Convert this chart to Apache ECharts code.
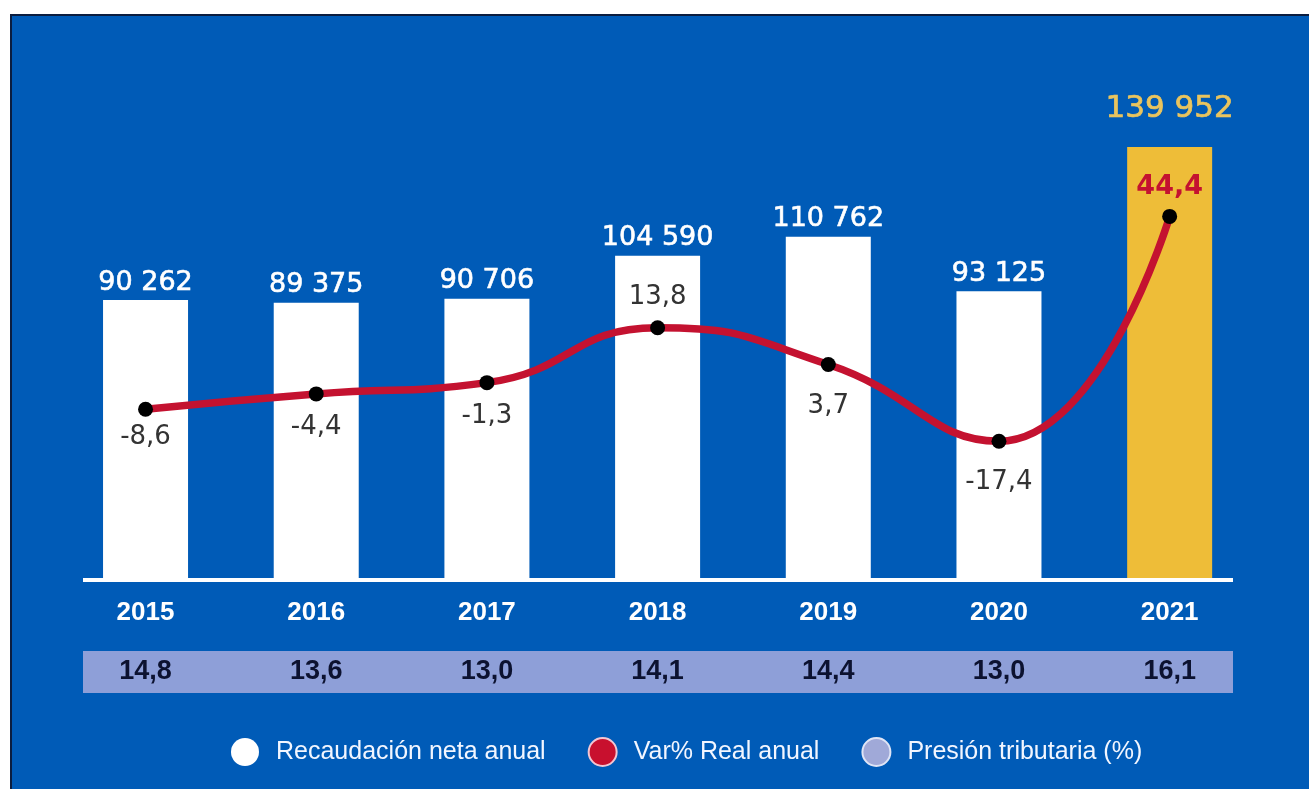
<!DOCTYPE html>
<html><head><meta charset="utf-8">
<script src="https://cdn.jsdelivr.net/npm/echarts/dist/echarts.min.js"></script>
<style>html,body{margin:0;padding:0;background:#fff;}#c{width:1309px;height:789px;}</style>
</head><body><div id="c"></div>
<script>
const years = ['2015', '2016', '2017', '2018', '2019', '2020', '2021'];
const recaudacion = [90262, 89375, 90706, 104590, 110762, 93125, 139952];
const varReal = [-8.6, -4.4, -1.3, 13.8, 3.7, -17.4, 44.4];
const presion = [14.8, 13.6, 13.0, 14.1, 14.4, 13.0, 16.1];
const seriesNames = ['Recaudación neta anual', 'Var% Real anual', 'Presión tributaria (%)'];

const fmtThousands = v => String(v).replace(/\B(?=(\d{3})+(?!\d))/g, ' ');
const fmtDec = v => v.toFixed(1).replace('.', ',');

const BLUE = '#005bb7', GOLD = '#eebd38', RED = '#c41230', BAND = '#8e9fd8';
const highlightIdx = years.length - 1;

// label placement for the line labels (style, not data)
const lineLabelCfg = varReal.map((v, i) => {
  const up = (i === 3 || i === highlightIdx);
  let dist = 10;
  if (i === 0) dist = 8;
  else if (i === 1 || i === 2) dist = 13;
  else if (i === 4 || i === 5) dist = 21;
  else if (i === highlightIdx) dist = 8;
  return { position: up ? 'top' : 'bottom', distance: dist };
});

const chart = echarts.init(document.getElementById('c'), null, { renderer: 'canvas' });
chart.setOption({
  animation: false,
  backgroundColor: '#ffffff',
  graphic: [
    { type: 'rect', z: -100, shape: { x: 11, y: 15, width: 1310, height: 790 },
      style: { fill: BLUE, stroke: '#0b1d3f', lineWidth: 2 } },
    { type: 'rect', z: -50, shape: { x: 83, y: 651, width: 1150, height: 42 },
      style: { fill: BAND } },
    { type: 'line', z: 100, shape: { x1: 83, y1: 580, x2: 1233, y2: 580 },
      style: { stroke: '#ffffff', lineWidth: 4 } }
  ],
  grid: [
    { left: 60.2, right: 54, top: 116, bottom: 211, containLabel: false },
    { left: 60.2, right: 54, top: 651, height: 42, containLabel: false }
  ],
  legend: {
    left: 226, top: 732,
    itemWidth: 28, itemHeight: 28, itemGap: 42,
    icon: 'circle',
    textStyle: { color: '#f2f6ff', fontFamily: 'Liberation Sans', fontSize: 25, padding: [0, 0, 0, 12] },
    data: [
      { name: seriesNames[0], icon: 'circle', itemStyle: { color: '#ffffff', borderWidth: 0 } },
      { name: seriesNames[1], icon: 'circle', itemStyle: { color: '#c8102e', borderColor: '#f3c6d2', borderWidth: 2 } },
      { name: seriesNames[2], icon: 'circle', itemStyle: { color: '#a0a9d8', borderColor: '#dfe5f6', borderWidth: 2, opacity: 1 } }
    ]
  },
  xAxis: [
    { type: 'category', gridIndex: 0, data: years,
      axisLine: { show: false }, axisTick: { show: false }, splitLine: { show: false },
      axisLabel: { color: '#ffffff', fontFamily: 'Liberation Sans', fontWeight: 'bold', fontSize: 26, margin: 22 } },
    { type: 'category', gridIndex: 1, data: years, show: false }
  ],
  yAxis: [
    { type: 'value', gridIndex: 0, min: 0, max: 150000, show: false, splitLine: { show: false } },
    { type: 'value', gridIndex: 0, min: -55, max: 72, show: false, splitLine: { show: false } },
    { type: 'value', gridIndex: 1, min: 0, max: 1, show: false, splitLine: { show: false } }
  ],
  series: [
    {
      name: seriesNames[0], type: 'bar', xAxisIndex: 0, yAxisIndex: 0,
      barWidth: 85, z: 2,
      itemStyle: { color: '#ffffff' },
      label: { show: true, position: 'top', distance: 4, color: '#ffffff',
        fontFamily: 'DejaVu Sans', fontSize: 27, textBorderColor: '#ffffff', textBorderWidth: 0.6,
        formatter: p => fmtThousands(p.value) },
      data: recaudacion.map((v, i) => i === highlightIdx ? {
        value: v, itemStyle: { color: GOLD },
        label: { color: '#e9c45e', fontSize: 31, distance: 22, textBorderColor: '#e9c45e', textBorderWidth: 0.7 }
      } : v)
    },
    {
      name: seriesNames[1], type: 'line', xAxisIndex: 0, yAxisIndex: 1,
      smooth: 0.5, z: 5,
      symbol: 'circle', symbolSize: 15,
      lineStyle: { color: RED, width: 7.5 },
      itemStyle: { color: '#000000' },
      label: { show: true, color: '#333333', fontFamily: 'DejaVu Sans', fontSize: 26,
        formatter: p => fmtDec(p.value) },
      data: varReal.map((v, i) => ({
        value: v,
        label: Object.assign({}, lineLabelCfg[i],
          i === highlightIdx ? { color: RED, fontWeight: 'bold', fontSize: 27 } : {})
      }))
    },
    {
      name: seriesNames[2], type: 'scatter', xAxisIndex: 1, yAxisIndex: 2,
      symbolSize: 0, z: 5,
      itemStyle: { color: '#a0a9d8', opacity: 1 },
      label: { show: true, position: 'inside', color: '#0c1230', opacity: 1,
        fontFamily: 'Liberation Sans', fontWeight: 'bold', fontSize: 27,
        formatter: p => fmtDec(presion[p.dataIndex]) },
      data: presion.map((v, i) => [years[i], 0.5])
    }
  ]
});
</script></body></html>
